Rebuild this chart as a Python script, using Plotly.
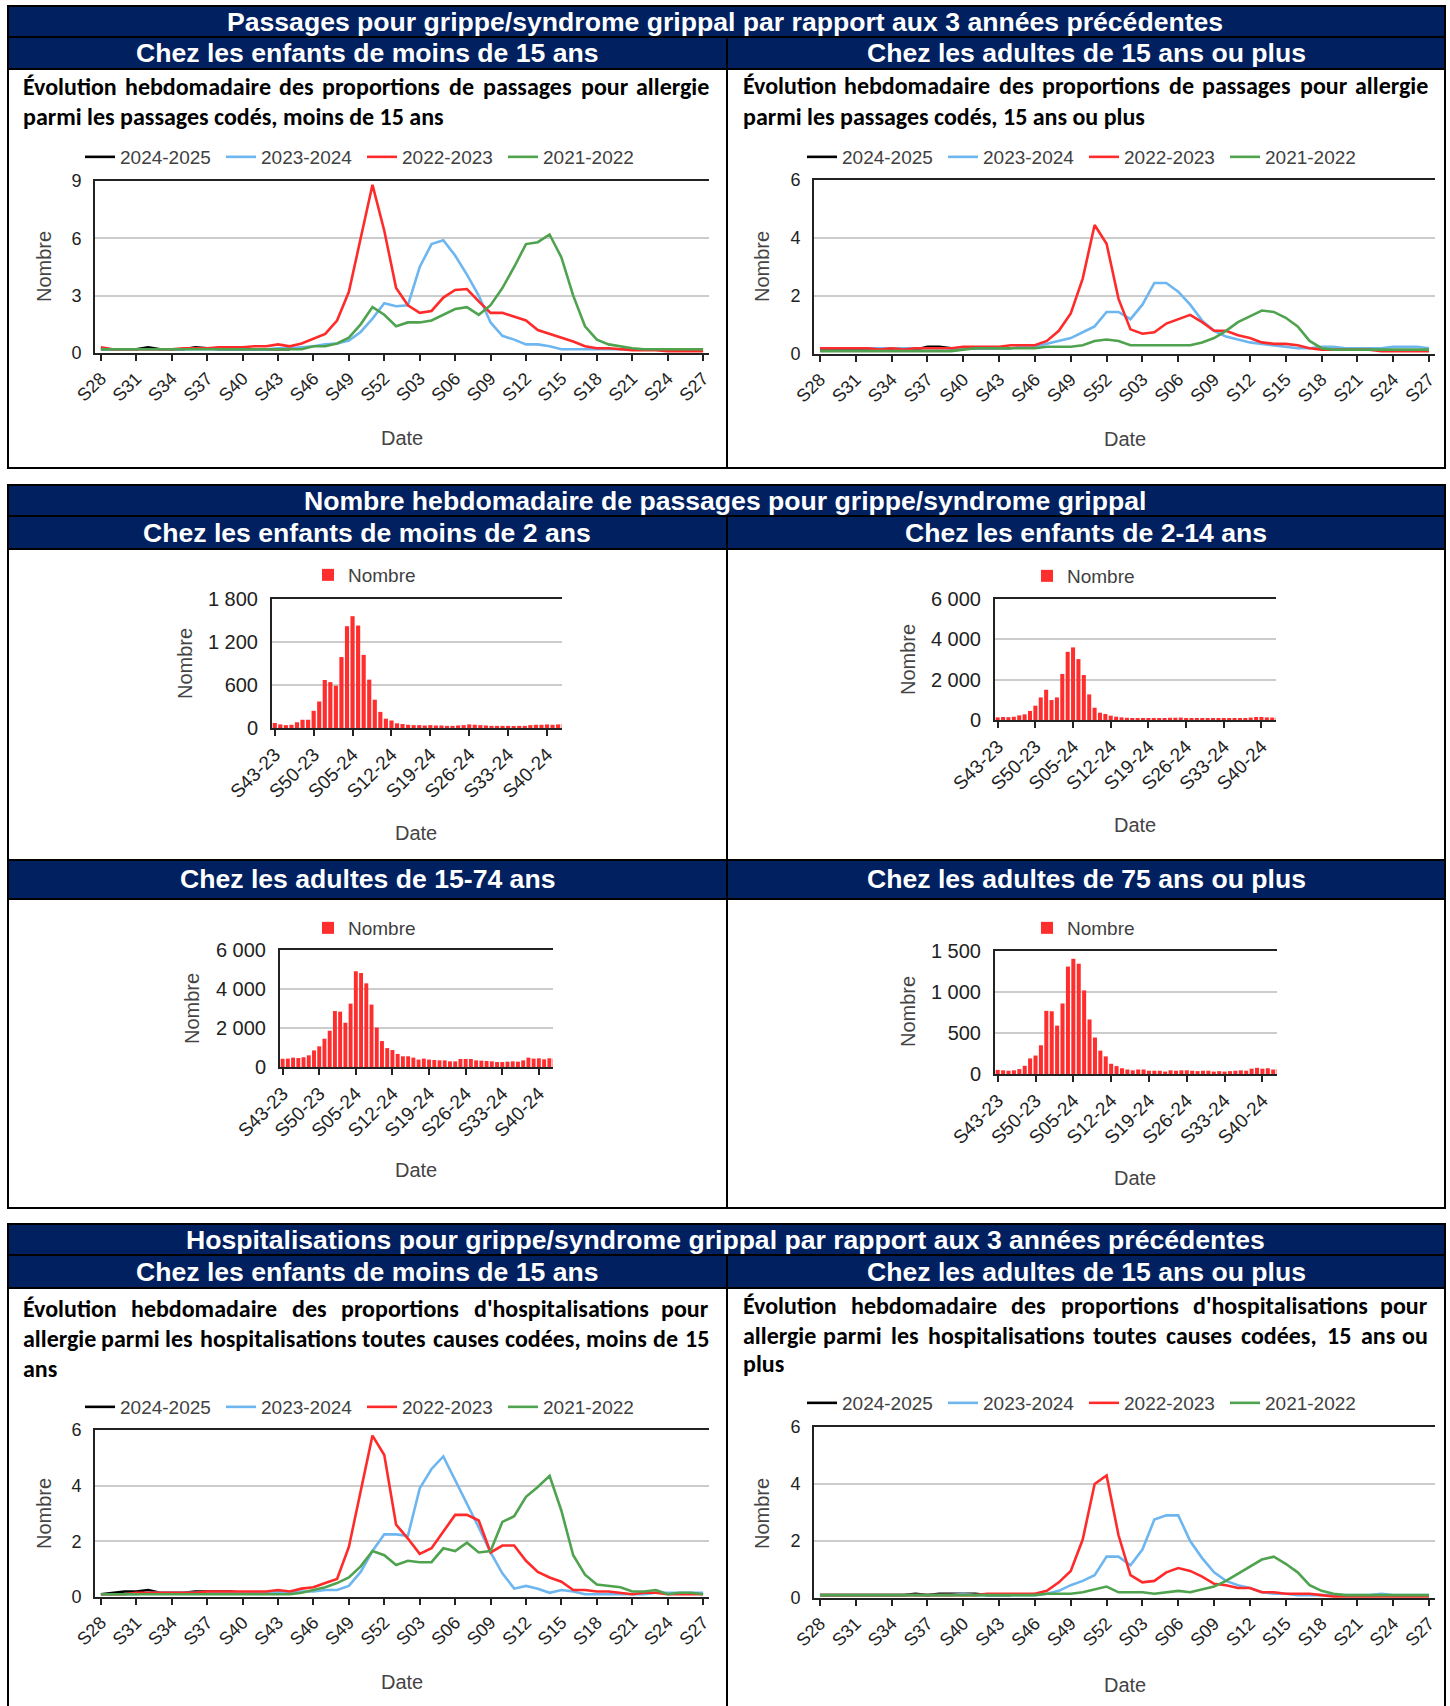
import plotly.graph_objects as go

# ── Canvas / theme ────────────────────────────────────────────
W, H = 1450, 1706
NAVY = "#002060"
ARIAL = "Liberation Sans, Arial, sans-serif"
CALIBRI = "Carlito, Lato, sans-serif"
TICK_COLOR = "#222222"
GRID_COLOR = "#CCCCCC"
BAR_RED = "#FF2E2E"

SEASONS = ["2024-2025", "2023-2024", "2022-2023", "2021-2022"]
SEASON_COLORS = ["#000000", "#6DB6F0", "#FF2B2B", "#4FA34F"]

# ── Data ──────────────────────────────────────────────────────
WEEKS = ("S28 S29 S30 S31 S32 S33 S34 S35 S36 S37 S38 S39 S40 S41 S42 S43 S44 S45 "
         "S46 S47 S48 S49 S50 S51 S52 S01 S02 S03 S04 S05 S06 S07 S08 S09 S10 S11 "
         "S12 S13 S14 S15 S16 S17 S18 S19 S20 S21 S22 S23 S24 S25 S26 S27").split()

BAR_WEEKS = ("S43-23 S44-23 S45-23 S46-23 S47-23 S48-23 S49-23 S50-23 S51-23 S52-23 "
             "S01-24 S02-24 S03-24 S04-24 S05-24 S06-24 S07-24 S08-24 S09-24 S10-24 "
             "S11-24 S12-24 S13-24 S14-24 S15-24 S16-24 S17-24 S18-24 S19-24 S20-24 "
             "S21-24 S22-24 S23-24 S24-24 S25-24 S26-24 S27-24 S28-24 S29-24 S30-24 "
             "S31-24 S32-24 S33-24 S34-24 S35-24 S36-24 S37-24 S38-24 S39-24 S40-24 "
             "S41-24 S42-24 S43-24 S44-24").split()

# Passages, moins de 15 ans
pass_enf_2425 = [0.2, 0.2, 0.2, 0.2, 0.3, 0.2, 0.2, 0.2, 0.3, 0.25, 0.2, 0.2, 0.2, 0.2, 0.2, 0.2, 0.2]
pass_enf_2324 = [0.2, 0.2, 0.2, 0.2, 0.2, 0.2, 0.2, 0.2, 0.2, 0.2, 0.2, 0.2, 0.2, 0.2, 0.2, 0.25, 0.25, 0.3,
                 0.35, 0.45, 0.5, 0.65, 1.1, 1.8, 2.6,
                 2.45, 2.5, 4.5, 5.7, 5.9, 5.1, 4.1, 3.0, 1.6, 0.9, 0.7, 0.45, 0.45, 0.35, 0.2, 0.2,
                 0.2, 0.2, 0.2, 0.2, 0.2, 0.2, 0.2, 0.2, 0.2, 0.2, 0.2]
pass_enf_2223 = [0.3, 0.2, 0.2, 0.2, 0.2, 0.2, 0.2, 0.25, 0.25, 0.25, 0.3, 0.3,
                 0.3, 0.35, 0.35, 0.45, 0.35, 0.5, 0.75, 1.0, 1.7, 3.2, 6.0, 8.8, 6.4,
                 3.4, 2.5, 2.1, 2.2, 2.9, 3.3, 3.35, 2.7, 2.1, 2.1, 1.9, 1.7, 1.2, 1.0, 0.8, 0.6,
                 0.35, 0.25, 0.25, 0.2, 0.15, 0.15, 0.15, 0.1, 0.1, 0.1, 0.1]
pass_enf_2122 = [0.2, 0.2, 0.2, 0.2, 0.2, 0.2, 0.2, 0.2, 0.2, 0.2, 0.2, 0.2, 0.2, 0.2, 0.2, 0.2, 0.2, 0.2,
                 0.35, 0.35, 0.5, 0.8, 1.5, 2.4, 2.0,
                 1.4, 1.6, 1.6, 1.7, 2.0, 2.3, 2.4, 2.0, 2.5, 3.4, 4.5, 5.7, 5.8, 6.2, 5.0, 3.0,
                 1.4, 0.7, 0.45, 0.35, 0.25, 0.2, 0.2, 0.2, 0.2, 0.2, 0.2]

# Passages, 15 ans ou plus
pass_adu_2425 = [0.15, 0.15, 0.15, 0.15, 0.15, 0.15, 0.15, 0.15, 0.15, 0.25, 0.25, 0.2, 0.2, 0.2, 0.2, 0.2, 0.2]
pass_adu_2324 = [0.2, 0.2, 0.2, 0.2, 0.2, 0.2, 0.2, 0.2, 0.2, 0.2, 0.2, 0.2, 0.2, 0.2, 0.2, 0.2, 0.2, 0.25,
                 0.25, 0.35, 0.45, 0.55, 0.75, 0.95, 1.45,
                 1.45, 1.2, 1.7, 2.45, 2.45, 2.15, 1.7, 1.15, 0.8, 0.6, 0.5, 0.4, 0.35, 0.3, 0.25, 0.2,
                 0.2, 0.25, 0.25, 0.2, 0.2, 0.2, 0.2, 0.25, 0.25, 0.25, 0.2]
pass_adu_2223 = [0.2, 0.2, 0.2, 0.2, 0.2, 0.15, 0.2, 0.15, 0.2, 0.2, 0.2, 0.2, 0.25, 0.25, 0.25, 0.25, 0.3, 0.3,
                 0.3, 0.45, 0.8, 1.4, 2.6, 4.45, 3.8,
                 1.9, 0.85, 0.7, 0.75, 1.05, 1.2, 1.35, 1.1, 0.8, 0.8, 0.65, 0.55, 0.4, 0.35, 0.35, 0.3,
                 0.2, 0.15, 0.15, 0.15, 0.15, 0.15, 0.1, 0.1, 0.1, 0.1, 0.1]
pass_adu_2122 = [0.1, 0.1, 0.1, 0.1, 0.1, 0.1, 0.1, 0.1, 0.1, 0.1, 0.1, 0.1, 0.15, 0.2, 0.2, 0.2, 0.2, 0.2,
                 0.2, 0.25, 0.25, 0.25, 0.3, 0.45, 0.5,
                 0.45, 0.3, 0.3, 0.3, 0.3, 0.3, 0.3, 0.4, 0.55, 0.8, 1.1, 1.3, 1.5, 1.45, 1.25, 0.95,
                 0.45, 0.2, 0.15, 0.15, 0.15, 0.15, 0.15, 0.15, 0.15, 0.15, 0.15]

# Hospitalisations, moins de 15 ans
hosp_enf_2425 = [0.1, 0.15, 0.2, 0.2, 0.25, 0.15, 0.15, 0.15, 0.2, 0.2, 0.2, 0.2, 0.15, 0.15, 0.15, 0.15, 0.15]
hosp_enf_2324 = [0.1, 0.1, 0.1, 0.1, 0.15, 0.15, 0.15, 0.15, 0.15, 0.15, 0.15, 0.15, 0.15, 0.15, 0.15, 0.15, 0.15, 0.2,
                 0.2, 0.25, 0.25, 0.4, 0.9, 1.65, 2.25,
                 2.25, 2.2, 3.9, 4.6, 5.05, 4.2, 3.4, 2.5, 1.6, 0.85, 0.3, 0.4, 0.3, 0.15, 0.25, 0.2,
                 0.1, 0.1, 0.1, 0.1, 0.1, 0.1, 0.15, 0.15, 0.15, 0.15, 0.15]
hosp_enf_2223 = [0.1, 0.1, 0.1, 0.15, 0.15, 0.15, 0.15, 0.15, 0.15, 0.2, 0.2, 0.2, 0.2, 0.2, 0.2, 0.25, 0.2, 0.3,
                 0.35, 0.5, 0.65, 1.8, 3.8, 5.8, 5.1,
                 2.6, 2.1, 1.55, 1.75, 2.35, 2.95, 2.95, 2.75, 1.6, 1.85, 1.85, 1.3, 0.9, 0.7, 0.55, 0.25,
                 0.25, 0.2, 0.2, 0.15, 0.1, 0.15, 0.15, 0.1, 0.1, 0.1, 0.1]
hosp_enf_2122 = [0.1, 0.1, 0.1, 0.1, 0.1, 0.1, 0.1, 0.1, 0.1, 0.1, 0.1, 0.1, 0.1, 0.1, 0.1, 0.1, 0.1, 0.15,
                 0.25, 0.35, 0.5, 0.7, 1.1, 1.65, 1.5,
                 1.15, 1.3, 1.25, 1.25, 1.75, 1.65, 1.95, 1.6, 1.65, 2.7, 2.9, 3.6, 3.95, 4.35, 3.1, 1.5,
                 0.8, 0.45, 0.4, 0.35, 0.2, 0.2, 0.25, 0.1, 0.15, 0.15, 0.1]

# Hospitalisations, 15 ans ou plus
hosp_adu_2425 = [0.1, 0.1, 0.1, 0.1, 0.1, 0.1, 0.1, 0.1, 0.15, 0.1, 0.15, 0.15, 0.15, 0.15, 0.1, 0.1, 0.1]
hosp_adu_2324 = [0.1, 0.1, 0.1, 0.1, 0.1, 0.1, 0.1, 0.1, 0.1, 0.1, 0.1, 0.1, 0.15, 0.1, 0.1, 0.1, 0.1, 0.1,
                 0.1, 0.15, 0.25, 0.45, 0.6, 0.8, 1.45,
                 1.45, 1.15, 1.7, 2.75, 2.9, 2.9, 2.0, 1.4, 0.9, 0.6, 0.45, 0.35, 0.2, 0.15, 0.15, 0.1,
                 0.1, 0.1, 0.1, 0.1, 0.1, 0.1, 0.15, 0.1, 0.1, 0.1, 0.1]
hosp_adu_2223 = [0.1, 0.1, 0.1, 0.1, 0.1, 0.1, 0.1, 0.1, 0.1, 0.1, 0.1, 0.1, 0.1, 0.1, 0.15, 0.15, 0.15, 0.15,
                 0.15, 0.25, 0.55, 0.95, 2.05, 4.0, 4.3,
                 2.2, 0.8, 0.55, 0.6, 0.9, 1.05, 0.95, 0.75, 0.5, 0.45, 0.35, 0.35, 0.2, 0.2, 0.15, 0.15,
                 0.15, 0.1, 0.05, 0.05, 0.05, 0.05, 0.05, 0.05, 0.05, 0.05, 0.05]
hosp_adu_2122 = [0.1, 0.1, 0.1, 0.1, 0.1, 0.1, 0.1, 0.1, 0.1, 0.1, 0.1, 0.1, 0.1, 0.1, 0.1, 0.1, 0.1, 0.1,
                 0.1, 0.15, 0.15, 0.15, 0.2, 0.3, 0.4,
                 0.2, 0.2, 0.2, 0.15, 0.2, 0.25, 0.2, 0.3, 0.4, 0.6, 0.85, 1.1, 1.35, 1.45, 1.2, 0.9,
                 0.45, 0.25, 0.15, 0.1, 0.1, 0.1, 0.1, 0.1, 0.1, 0.1, 0.1]

# Weekly counts (bars)
nb_moins2 = [70, 50, 40, 45, 80, 115, 115, 240, 370, 670, 640, 590, 990, 1420, 1560, 1430, 1020, 675,
             395, 225, 130, 105, 65, 55, 45, 40, 40, 35, 40, 35, 35, 30, 30, 35, 40, 50, 45, 40,
             35, 30, 30, 30, 30, 25, 30, 30, 40, 45, 45, 50, 45, 50, 55, 70]
nb_2_14 = [130, 150, 140, 160, 230, 280, 450, 710, 1120, 1500, 990, 1120, 2280, 3380, 3600, 3020,
           2230, 1270, 610, 360, 300, 215, 165, 130, 110, 100, 90, 80, 80, 80, 90, 100, 110, 110,
           120, 100, 90, 80, 70, 70, 60, 60, 60, 60, 60, 80, 100, 120, 150, 150, 130, 120, 110, 200]
nb_15_74 = [420, 430, 480, 460, 500, 600, 850, 1060, 1450, 1860, 2870, 2840, 2270, 3250, 4910, 4820,
            4290, 3200, 2020, 1330, 970, 870, 670, 550, 550, 480, 380, 430, 380, 360, 340, 340, 290,
            290, 410, 410, 410, 340, 325, 310, 290, 255, 255, 275, 290, 275, 340, 480, 430, 445,
            395, 445, 430, 460]
nb_75plus = [50, 45, 40, 45, 60, 100, 190, 225, 350, 770, 765, 590, 860, 1310, 1405, 1345, 1020, 665,
             445, 285, 215, 125, 97, 70, 55, 45, 55, 55, 40, 40, 40, 30, 45, 40, 45, 45, 40, 35,
             40, 40, 30, 35, 30, 35, 40, 45, 40, 65, 75, 65, 70, 55, 60, 50]


def px(x):
    return x / W


def py(y):
    return 1 - y / H


fig = go.Figure()
layout = {}
annotations = []
shapes = []


def add_text(x, y, text, size, color="#000000", family=ARIAL, xanchor="center", angle=0):
    annotations.append(dict(x=px(x), y=py(y), xref="paper", yref="paper", text=text,
                            showarrow=False, xanchor=xanchor, yanchor="middle", textangle=angle,
                            font=dict(size=size, color=color, family=family)))


AXIS_COMMON = dict(
    automargin=False, showline=True, linecolor=TICK_COLOR, linewidth=2,
    tickfont=dict(size=18, color=TICK_COLOR, family=ARIAL), fixedrange=True,
)
LEGEND_COMMON = dict(
    orientation="h", xanchor="left", yanchor="middle", bgcolor="rgba(0,0,0,0)",
    font=dict(size=19, color="#404040", family=ARIAL), traceorder="normal",
)
TITLE_SIZE = 20

# ═══════════════════════════════════════════════════════════════
#  Line charts (season comparison)
# ═══════════════════════════════════════════════════════════════
LINE_CHARTS = [
    # n, series, (x0, x1, ytop, ybottom), ymax, dtick, legend (x, y), nombre (x, y), date (x, y)
    (1, [pass_enf_2425, pass_enf_2324, pass_enf_2223, pass_enf_2122], (95, 709, 181, 353), 9, 3,
     (80, 157), (44, 267), (402, 438)),
    (2, [pass_adu_2425, pass_adu_2324, pass_adu_2223, pass_adu_2122], (814, 1435, 180, 354), 6, 2,
     (802, 157), (762, 267), (1125, 439)),
    (7, [hosp_enf_2425, hosp_enf_2324, hosp_enf_2223, hosp_enf_2122], (95, 709, 1430, 1597), 6, 2,
     (80, 1407), (44, 1514), (402, 1682)),
    (8, [hosp_adu_2425, hosp_adu_2324, hosp_adu_2223, hosp_adu_2122], (814, 1435, 1427, 1598), 6, 2,
     (802, 1403), (762, 1514), (1125, 1685)),
]

for n, series, (x0, x1, yt, yb), ymax, dtick, (lx, ly), (nx, ny), (dx, dy) in LINE_CHARTS:
    sfx = "" if n == 1 else str(n)
    leg = "legend" if n == 1 else f"legend{n}"
    for name, color, vals in zip(SEASONS, SEASON_COLORS, series):
        fig.add_trace(go.Scatter(
            x=WEEKS[:len(vals)], y=vals, mode="lines", name=name,
            line=dict(color=color, width=2.6),
            xaxis=f"x{sfx}", yaxis=f"y{sfx}", legend=leg, hoverinfo="skip",
        ))
    layout[f"xaxis{sfx}"] = dict(
        AXIS_COMMON, domain=[px(x0), px(x1)], anchor=f"y{sfx}", type="category",
        categoryorder="array", categoryarray=WEEKS,
        range=[-0.5, 51.5], tickmode="array", tickvals=WEEKS[::3], ticktext=WEEKS[::3],
        tickangle=-45, ticks="outside", ticklen=6, tickwidth=2, tickcolor=TICK_COLOR,
        mirror=True, showgrid=False,
    )
    layout[f"yaxis{sfx}"] = dict(
        AXIS_COMMON, domain=[py(yb), py(yt)], anchor=f"x{sfx}", range=[0, ymax], dtick=dtick,
        showgrid=True, gridcolor=GRID_COLOR, gridwidth=2, zeroline=False,
        ticks="", ticklabelstandoff=8,
    )
    layout[leg] = dict(LEGEND_COMMON, x=px(lx), y=py(ly), entrywidth=96)
    add_text(nx, ny, "Nombre", TITLE_SIZE, "#444444", angle=-90)
    add_text(dx, dy, "Date", TITLE_SIZE, "#444444")

# ═══════════════════════════════════════════════════════════════
#  Bar charts (weekly counts)
# ═══════════════════════════════════════════════════════════════
BAR_CHARTS = [
    (3, nb_moins2, (272, 562, 599, 728), 1800, 600, (308, 575), (185, 664), (416, 833)),
    (4, nb_2_14, (995, 1276, 599, 720), 6000, 2000, (1027, 576), (908, 660), (1135, 825)),
    (5, nb_15_74, (280, 553, 950, 1067), 6000, 2000, (308, 928), (192, 1009), (416, 1170)),
    (6, nb_75plus, (995, 1277, 951, 1074), 1500, 500, (1027, 928), (908, 1012), (1135, 1178)),
]

for n, vals, (x0, x1, yt, yb), ymax, dtick, (lx, ly), (nx, ny), (dx, dy) in BAR_CHARTS:
    leg = f"legend{n}"
    fig.add_trace(go.Bar(
        x=BAR_WEEKS, y=vals, name="Nombre", marker=dict(color=BAR_RED, line=dict(width=0)),
        xaxis=f"x{n}", yaxis=f"y{n}", legend=leg, hoverinfo="skip",
    ))
    layout[f"xaxis{n}"] = dict(
        AXIS_COMMON, domain=[px(x0), px(x1)], anchor=f"y{n}", type="category",
        categoryorder="array", categoryarray=BAR_WEEKS,
        range=[-0.5, 51.7], tickmode="array", tickvals=BAR_WEEKS[::7], ticktext=BAR_WEEKS[::7],
        tickangle=-45, ticks="outside", ticklen=6, tickwidth=2, tickcolor=TICK_COLOR,
        mirror=True, showgrid=False, tickfont=dict(size=19, color=TICK_COLOR, family=ARIAL),
    )
    layout[f"yaxis{n}"] = dict(
        AXIS_COMMON, domain=[py(yb), py(yt)], anchor=f"x{n}", range=[0, ymax], dtick=dtick,
        tickformat=",d", showgrid=True, gridcolor=GRID_COLOR, gridwidth=2, zeroline=False,
        ticks="", ticklabelstandoff=8, tickfont=dict(size=20, color=TICK_COLOR, family=ARIAL),
    )
    layout[leg] = dict(LEGEND_COMMON, x=px(lx), y=py(ly))
    add_text(nx, ny, "Nombre", TITLE_SIZE, "#444444", angle=-90)
    add_text(dx, dy, "Date", TITLE_SIZE, "#444444")

# ═══════════════════════════════════════════════════════════════
#  Frames and navy header bars
# ═══════════════════════════════════════════════════════════════
L, R, MID = 8, 1445, 727


def rect(x0, y0, x1, y1, fill=None):
    shapes.append(dict(type="rect", xref="paper", yref="paper",
                       x0=px(x0), x1=px(x1), y0=py(y1), y1=py(y0),
                       fillcolor=fill or "rgba(0,0,0,0)", line=dict(color="#000000", width=2)))


def vline(x, y0, y1):
    shapes.append(dict(type="line", xref="paper", yref="paper",
                       x0=px(x), x1=px(x), y0=py(y0), y1=py(y1),
                       line=dict(color="#000000", width=2)))


# section 1
rect(L, 6, R, 468)
rect(L, 6, R, 37, NAVY)
rect(L, 37, MID, 69, NAVY)
rect(MID, 37, R, 69, NAVY)
vline(MID, 69, 468)
# section 2
rect(L, 485, R, 1208)
rect(L, 485, R, 516, NAVY)
rect(L, 516, MID, 549, NAVY)
rect(MID, 516, R, 549, NAVY)
rect(L, 860, MID, 899, NAVY)
rect(MID, 860, R, 899, NAVY)
vline(MID, 549, 860)
vline(MID, 899, 1208)
# section 3
rect(L, 1224, R, 1760)
rect(L, 1224, R, 1255, NAVY)
rect(L, 1255, MID, 1288, NAVY)
rect(MID, 1255, R, 1288, NAVY)
vline(MID, 1288, 1760)

HEAD = 26.6
add_text(725, 22, "<b>Passages pour grippe/syndrome grippal par rapport aux 3 années précédentes</b>", HEAD, "white")
add_text(367, 53, "<b>Chez les enfants de moins de 15 ans</b>", HEAD, "white")
add_text(1086, 53, "<b>Chez les adultes de 15 ans ou plus</b>", HEAD, "white")
add_text(725, 501, "<b>Nombre hebdomadaire de passages pour grippe/syndrome grippal</b>", HEAD, "white")
add_text(367, 533, "<b>Chez les enfants de moins de 2 ans</b>", HEAD, "white")
add_text(1086, 533, "<b>Chez les enfants de 2-14 ans</b>", HEAD, "white")
add_text(367, 879, "<b>Chez les adultes de 15-74 ans</b>", HEAD, "white")
add_text(1086, 879, "<b>Chez les adultes de 75 ans ou plus</b>", HEAD, "white")
add_text(725, 1240, "<b>Hospitalisations pour grippe/syndrome grippal par rapport aux 3 années précédentes</b>", HEAD, "white")
add_text(367, 1272, "<b>Chez les enfants de moins de 15 ans</b>", HEAD, "white")
add_text(1086, 1272, "<b>Chez les adultes de 15 ans ou plus</b>", HEAD, "white")

# ═══════════════════════════════════════════════════════════════
#  Justified paragraphs
# ═══════════════════════════════════════════════════════════════
PARA_SIZE = 24
GLYPH_SCALE = 0.94
GLYPH_W = {c: 0.565 for c in "bdhnopqu"}
GLYPH_W.update({"i": 0.26, "l": 0.26, "j": 0.26, "f": 0.33, "t": 0.36, "r": 0.38, "s": 0.43,
                "c": 0.48, "z": 0.45, "e": 0.53, "é": 0.53, "a": 0.52, "g": 0.52, "k": 0.52,
                "v": 0.49, "y": 0.52, "x": 0.52, "m": 0.85, "w": 0.79, "É": 0.58, ",": 0.22,
                "'": 0.23, "-": 0.36})


def word_w(word):
    return sum(GLYPH_W.get(c, 0.58) for c in word) * PARA_SIZE * GLYPH_SCALE


def paragraph(lines, x0, x1, ys):
    for (text, justify), y in zip(lines, ys):
        if not justify:
            add_text(x0, y, f"<b>{text}</b>", PARA_SIZE, family=CALIBRI, xanchor="left")
            continue
        words = text.split()
        widths = [word_w(w) for w in words]
        gap = (x1 - x0 - sum(widths)) / (len(words) - 1)
        x = x0
        for i, (w, wd) in enumerate(zip(words, widths)):
            if i == 0:
                add_text(x0, y, f"<b>{w}</b>", PARA_SIZE, family=CALIBRI, xanchor="left")
            elif i == len(words) - 1:
                add_text(x1, y, f"<b>{w}</b>", PARA_SIZE, family=CALIBRI, xanchor="right")
            else:
                add_text(x + wd / 2, y, f"<b>{w}</b>", PARA_SIZE, family=CALIBRI)
            x += wd + gap


paragraph([("Évolution hebdomadaire des proportions de passages pour allergie", True),
           ("parmi les passages codés, moins de 15 ans", False)], 21, 711, [87, 117])
paragraph([("Évolution hebdomadaire des proportions de passages pour allergie", True),
           ("parmi les passages codés, 15 ans ou plus", False)], 741, 1430, [86, 116])
paragraph([("Évolution hebdomadaire des proportions d'hospitalisations pour", True),
           ("allergie parmi les hospitalisations toutes causes codées, moins de 15", True),
           ("ans", False)], 21, 711, [1308, 1338, 1368])
paragraph([("Évolution hebdomadaire des proportions d'hospitalisations pour", True),
           ("allergie parmi les hospitalisations toutes causes codées, 15 ans ou", True),
           ("plus", False)], 741, 1430, [1305, 1335, 1363])

fig.update_layout(
    template="none",
    width=W, height=H, margin=dict(l=0, r=0, t=0, b=0, autoexpand=False),
    paper_bgcolor="white", plot_bgcolor="white",
    separators=", ", bargap=0.25, showlegend=True,
    font=dict(family=ARIAL, color=TICK_COLOR),
    annotations=annotations, shapes=shapes,
    **layout,
)

fig.write_html("out.html", config={"displayModeBar": False},
               post_script="document.body.style.margin='0';")
